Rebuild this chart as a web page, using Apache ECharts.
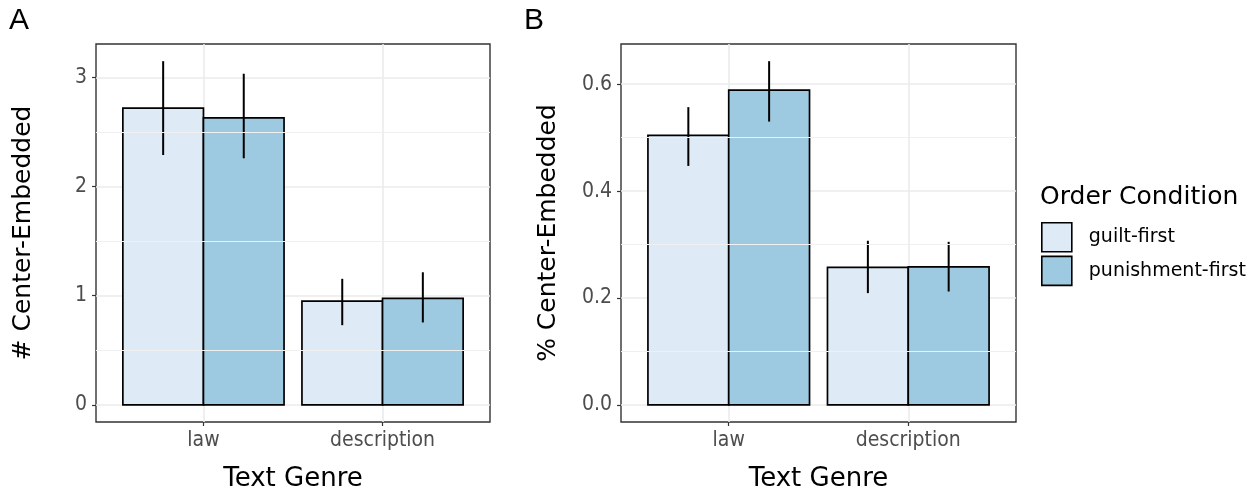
<!DOCTYPE html>
<html>
<head>
<meta charset="utf-8">
<script src="https://cdn.jsdelivr.net/npm/echarts@6/dist/echarts.min.js"></script>
<style>
html,body{margin:0;padding:0;background:#fff;}
#chart{width:1260px;height:496px;}
</style>
</head>
<body>
<div id="chart"></div>
<script>
// ---- data ----
const categories = ['law', 'description'];
const groups = ['guilt-first', 'punishment-first'];

// Panel A: # Center-Embedded
const countGuilt = [2.72, 0.95];
const countGuiltLo = [2.29, 0.73];
const countGuiltHi = [3.15, 1.155];
const countPunish = [2.63, 0.975];
const countPunishLo = [2.26, 0.755];
const countPunishHi = [3.035, 1.215];

// Panel B: % Center-Embedded
const pctGuilt = [0.504, 0.257];
const pctGuiltLo = [0.447, 0.209];
const pctGuiltHi = [0.557, 0.307];
const pctPunish = [0.589, 0.258];
const pctPunishLo = [0.530, 0.212];
const pctPunishHi = [0.643, 0.305];

// tick labels
const yTicksA = [0, 1, 2, 3];
const yMinorA = [0.5, 1.5, 2.5];
const yTicksB = [0, 0.2, 0.4, 0.6];
const yMinorB = [0.1, 0.3, 0.5];

// ---- styling ----
const FILL = {'guilt-first': '#deebf7', 'punishment-first': '#9ecae1'};
const FONT = 'DejaVu Sans';
const TICKFONT = 'DejaVu Sans Condensed';
const DODGE = 0.225; // half of group width 0.9 / 2

const chart = echarts.init(document.getElementById('chart'), null, {renderer: 'canvas'});

function barSeries(name, values, gridIdx, off) {
  return {
    type: 'custom',
    name: name,
    xAxisIndex: gridIdx, yAxisIndex: gridIdx,
    z: 3,
    data: values.map((v, i) => [i + 1, v]),
    renderItem: function (params, api) {
      const x = api.value(0) + off;
      const y = api.value(1);
      const p0 = api.coord([x - DODGE, y]);
      const p1 = api.coord([x + DODGE, 0]);
      return {
        type: 'rect',
        shape: {x: p0[0], y: p0[1], width: p1[0] - p0[0], height: p1[1] - p0[1]},
        style: {fill: FILL[name], stroke: '#000', lineWidth: 1.7}
      };
    }
  };
}

function errSeries(name, lo, hi, gridIdx, off) {
  return {
    type: 'custom',
    name: name,
    xAxisIndex: gridIdx, yAxisIndex: gridIdx,
    z: 4,
    silent: true,
    data: lo.map((v, i) => [i + 1, v, hi[i]]),
    renderItem: function (params, api) {
      const x = api.value(0) + off;
      const a = api.coord([x, api.value(1)]);
      const b = api.coord([x, api.value(2)]);
      return {
        type: 'line',
        shape: {x1: a[0], y1: a[1], x2: b[0], y2: b[1]},
        style: {stroke: '#000', lineWidth: 2}
      };
    }
  };
}

function minorSeries(gridIdx, vals) {
  return {
    type: 'line',
    name: 'minor' + gridIdx,
    xAxisIndex: gridIdx, yAxisIndex: gridIdx,
    data: [],
    z: 1,
    silent: true,
    markLine: {
      silent: true,
      symbol: 'none',
      label: {show: false},
      lineStyle: {color: '#f0f0f0', width: 1, type: 'solid'},
      emphasis: {disabled: true},
      animation: false,
      data: vals.map(v => ({yAxis: v}))
    }
  };
}

function yRange(his) {
  const m = Math.max.apply(null, his);
  const pad = m * 0.05;
  return [-pad, m + pad];
}
const rA = yRange(countGuiltHi.concat(countPunishHi));
const rB = yRange(pctGuiltHi.concat(pctPunishHi));

function xAxisDef(gridIdx) {
  return {
    type: 'value', gridIndex: gridIdx,
    min: 0.4, max: 2.6,
    name: 'Text Genre', nameLocation: 'middle', nameGap: 44,
    nameTextStyle: {fontFamily: FONT, fontSize: 26, color: '#000'},
    axisLine: {show: false, onZero: false},
    axisTick: {show: true, length: 4, customValues: [1, 2], lineStyle: {color: '#333', width: 1.2}},
    axisLabel: {customValues: [1, 2], formatter: v => categories[Math.round(v) - 1] || '',
      fontFamily: TICKFONT, fontSize: 21, color: '#4d4d4d', margin: 8},
    splitLine: {show: true, lineStyle: {color: '#ebebeb', width: 1.6}}
  };
}
function yAxisDef(gridIdx, r, ticks, title, dec) {
  return {
    type: 'value', gridIndex: gridIdx,
    min: r[0], max: r[1],
    name: title, nameLocation: 'middle', nameGap: 60, nameRotate: 90,
    nameTextStyle: {fontFamily: FONT, fontSize: 25, color: '#000'},
    axisLine: {show: false, onZero: false},
    axisTick: {show: true, length: 4, customValues: ticks, lineStyle: {color: '#333', width: 1.2}},
    axisLabel: {customValues: ticks, formatter: v => v.toFixed(dec),
      fontFamily: TICKFONT, fontSize: 21, color: '#4d4d4d', margin: 9},
    splitLine: {show: true, lineStyle: {color: '#ebebeb', width: 1.6}}
  };
}

const gridBase = {top: 44, bottom: 74, show: true, borderColor: '#333', borderWidth: 1.4,
  backgroundColor: '#fff', containLabel: false, outerBoundsMode: 'none'};

const option = {
  animation: false,
  backgroundColor: '#fff',
  title: [
    {text: 'A', left: 9, top: 6, padding: 0, textStyle: {fontFamily: 'Liberation Sans', fontSize: 30, fontWeight: 'normal', color: '#000'}},
    {text: 'B', left: 524, top: 6, padding: 0, textStyle: {fontFamily: 'Liberation Sans', fontSize: 30, fontWeight: 'normal', color: '#000'}},
    {text: 'Order Condition', left: 1040, top: 185, padding: 0, textStyle: {fontFamily: FONT, fontSize: 25, fontWeight: 'normal', color: '#000'}}
  ],
  legend: {
    orient: 'vertical',
    left: 1041, top: 222,
    padding: 0,
    itemWidth: 30, itemHeight: 29, itemGap: 3,
    selectedMode: false,
    icon: 'rect',
    textStyle: {fontFamily: FONT, fontSize: 19, color: '#000', padding: [0, 0, 0, 12]},
    data: groups.map(g => ({name: g, icon: 'rect', itemStyle: {color: FILL[g], borderColor: '#000', borderWidth: 1.6}}))
  },
  grid: [
    Object.assign({left: 96, right: 770}, gridBase),
    Object.assign({left: 621, right: 244}, gridBase)
  ],
  xAxis: [xAxisDef(0), xAxisDef(1)],
  yAxis: [
    yAxisDef(0, rA, yTicksA, '# Center-Embedded', 0),
    yAxisDef(1, rB, yTicksB, '% Center-Embedded', 1)
  ],
  series: [
    minorSeries(0, yMinorA),
    minorSeries(1, yMinorB),
    barSeries('guilt-first', countGuilt, 0, -DODGE),
    barSeries('punishment-first', countPunish, 0, DODGE),
    errSeries('guilt-first', countGuiltLo, countGuiltHi, 0, -DODGE),
    errSeries('punishment-first', countPunishLo, countPunishHi, 0, DODGE),
    barSeries('guilt-first', pctGuilt, 1, -DODGE),
    barSeries('punishment-first', pctPunish, 1, DODGE),
    errSeries('guilt-first', pctGuiltLo, pctGuiltHi, 1, -DODGE),
    errSeries('punishment-first', pctPunishLo, pctPunishHi, 1, DODGE)
  ]
};
chart.setOption(option);
</script>
</body>
</html>
